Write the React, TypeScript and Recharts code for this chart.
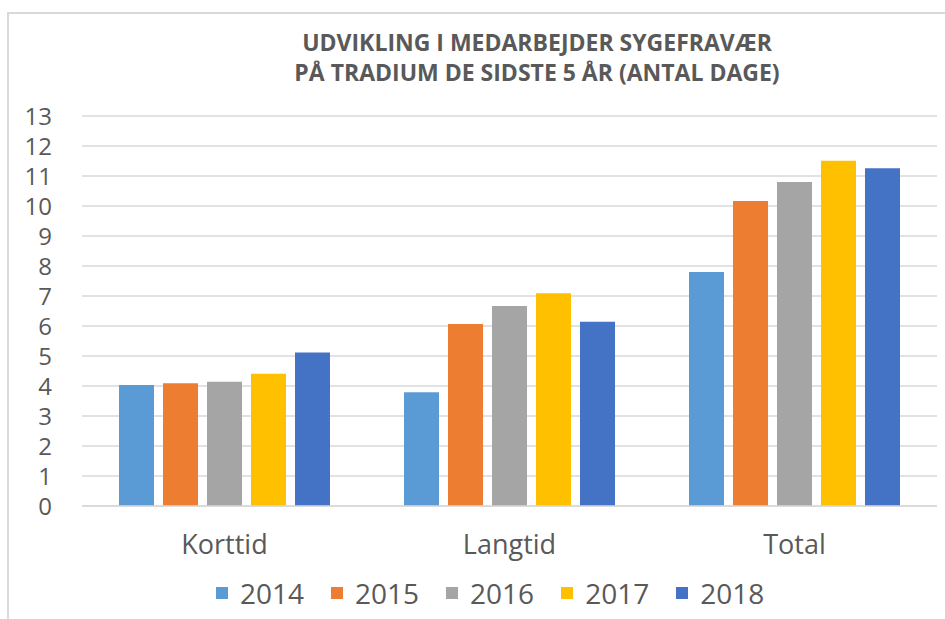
import { Bar, BarChart, CartesianGrid, Legend, XAxis, YAxis } from 'recharts'

const categories = ['Korttid', 'Langtid', 'Total']
const years = ['2014', '2015', '2016', '2017', '2018']
const colors = ['#5B9BD5', '#ED7D31', '#A5A5A5', '#FFC000', '#4472C4']

const v2014 = [4.03, 3.79, 7.8]
const v2015 = [4.09, 6.07, 10.17]
const v2016 = [4.14, 6.67, 10.8]
const v2017 = [4.41, 7.09, 11.51]
const v2018 = [5.12, 6.14, 11.26]

const yTicks = [0, 1, 2, 3, 4, 5, 6, 7, 8, 9, 10, 11, 12, 13]

const titleLines = ['UDVIKLING I MEDARBEJDER SYGEFRAVÆR', 'PÅ TRADIUM DE SIDSTE 5 ÅR (ANTAL DAGE)']

const seriesValues = [v2014, v2015, v2016, v2017, v2018]
const data = categories.map((name, i) => {
  const row: Record<string, string | number> = { name }
  years.forEach((y, j) => {
    row[y] = seriesValues[j][i]
  })
  return row
})

const font = '"Open Sans", sans-serif'
const textColor = '#595959'

function LegendContent() {
  return (
    <div style={{ display: 'flex', alignItems: 'center', fontFamily: font, fontSize: 28, color: textColor, lineHeight: '30px' }}>
      {years.map((y, i) => (
        <div key={y} style={{ display: 'flex', alignItems: 'center', marginRight: 27 }}>
          <span style={{ display: 'inline-block', width: 12, height: 12, background: colors[i], marginRight: 12 }} />
          <span>{y}</span>
        </div>
      ))}
    </div>
  )
}

export default function App() {
  return (
    <div style={{ position: 'absolute', left: 0, top: 0, width: 945, height: 619, overflow: 'hidden', background: '#fff' }}>
      <div
        style={{
          position: 'absolute',
          left: 7,
          top: 12,
          right: -10,
          bottom: -10,
          borderLeft: '2px solid #d9d9d9',
          borderTop: '2px solid #d9d9d9',
        }}
      />
      <div
        style={{
          position: 'absolute',
          left: 0,
          width: 1074,
          top: 27,
          textAlign: 'center',
          fontFamily: font,
          fontWeight: 700,
          fontSize: 23,
          lineHeight: '30px',
          color: textColor,
        }}
      >
        {titleLines.map((t) => (
          <div key={t}>{t}</div>
        ))}
      </div>
      <div style={{ position: 'absolute', left: 0, top: 0 }}>
        <BarChart
          width={945}
          height={619}
          data={data}
          margin={{ top: 116, right: 8, left: 22, bottom: 11 }}
          barCategoryGap={37}
          barGap={9}
        >
          <CartesianGrid vertical={false} stroke="#d9d9d9" strokeWidth={1.5} />
          <XAxis
            dataKey="name"
            height={72}
            axisLine={{ stroke: '#d9d9d9', strokeWidth: 1.5 }}
            tickLine={false}
            tickSize={0}
            tickMargin={29}
            tick={{ fontSize: 27, fill: textColor, fontFamily: font }}
          />
          <YAxis
            width={60}
            domain={[0, 13]}
            ticks={yTicks}
            interval={0}
            axisLine={false}
            tickLine={false}
            tickSize={0}
            tickMargin={30}
            tick={{ fontSize: 24, fill: textColor, fontFamily: font }}
          />
          <Legend
            verticalAlign="bottom"
            align="left"
            height={30}
            content={<LegendContent />}
            wrapperStyle={{ left: 216, width: 'auto' }}
          />
          {years.map((y, i) => (
            <Bar key={y} dataKey={y} fill={colors[i]} isAnimationActive={false} />
          ))}
        </BarChart>
      </div>
    </div>
  )
}
